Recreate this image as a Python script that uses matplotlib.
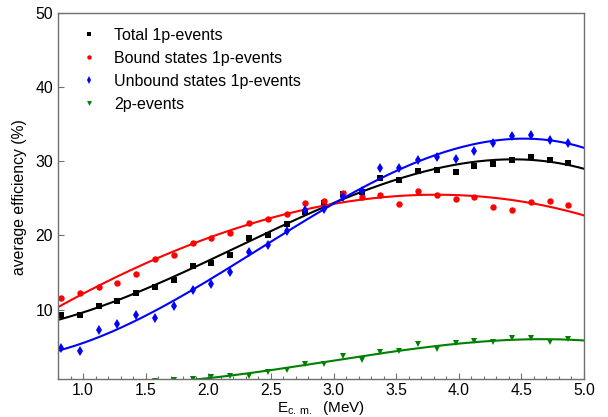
import numpy as np
import matplotlib
matplotlib.use('Agg')
import matplotlib.pyplot as plt
from matplotlib.ticker import MultipleLocator, FormatStrFormatter

plt.rcParams['font.family'] = ['Liberation Sans', 'DejaVu Sans']
plt.rcParams['mathtext.fontset'] = 'custom'
plt.rcParams['mathtext.rm'] = 'Liberation Sans'

# energy bins (MeV), 0.15 MeV wide
energy = [0.825, 0.975, 1.125, 1.275, 1.425, 1.575, 1.725, 1.875, 2.025, 2.175,
          2.325, 2.475, 2.625, 2.775, 2.925, 3.075, 3.225, 3.375, 3.525, 3.675,
          3.825, 3.975, 4.125, 4.275, 4.425, 4.575, 4.725, 4.875]

total_1p = [9.2, 9.2, 10.5, 11.2, 12.2, 13.1, 14.0, 15.8, 16.3, 17.4,
            19.6, 20.1, 21.5, 23.2, 24.3, 25.5, 25.8, 27.7, 27.4, 28.7,
            28.8, 28.5, 29.3, 29.6, 30.1, 30.6, 30.1, 29.8]

bound_1p = [11.6, 12.2, 13.0, 13.6, 14.8, 16.8, 17.3, 19.0, 19.7, 20.3,
            21.6, 22.2, 22.9, 24.3, 24.6, 25.7, 25.2, 25.4, 24.2, 26.0,
            25.4, 24.9, 25.2, 23.8, 23.4, 24.5, 24.6, 24.1]

unbound_1p = [4.8, 4.4, 7.2, 8.0, 9.2, 8.9, 10.5, 12.6, 13.4, 15.0,
              17.8, 18.7, 20.6, 23.4, 23.5, 25.2, 26.0, 29.0, 29.0, 30.1,
              30.6, 30.3, 31.4, 32.4, 33.4, 33.5, 32.9, 32.5]

# lowest 2p points sit below the axis (clipped), values estimated ~0
events_2p = [0.0, 0.05, 0.1, 0.15, 0.25, 0.35, 0.5,
             0.7, 0.85, 1.0, 1.0, 1.55, 1.9, 2.6, 2.7, 3.8, 3.25,
             4.3, 4.4, 5.4, 4.7, 5.5, 5.7, 5.6, 6.1, 6.2, 5.6, 6.0]

fig = plt.figure(figsize=(6.08, 4.17), dpi=100)
ax = fig.add_axes([0.0954, 0.0904, 0.8651, 0.8794])

xfit = np.linspace(0.8, 5.0, 300)

series = [
    (total_1p, 'black', 's', 4.2, 'Total 1p-events'),
    (bound_1p, 'red', 'o', 4.6, 'Bound states 1p-events'),
    (unbound_1p, 'blue', 'd', 5.5, 'Unbound states 1p-events'),
    (events_2p, 'green', 'v', 5.0, '2p-events'),
]

for y, col, mk, ms, lab in series:
    ax.plot(energy, y, linestyle='none', marker=mk, color=col, markersize=ms,
            markeredgewidth=0, label=lab)
    coef = np.polyfit(energy, y, 3)
    ax.plot(xfit, np.polyval(coef, xfit), color=col, lw=1.5)

ax.set_xlim(0.8, 5.0)
ax.set_ylim(0.6, 50)
ax.set_yticks([10, 20, 30, 40, 50])
ax.xaxis.set_major_locator(MultipleLocator(0.5))
ax.xaxis.set_minor_locator(MultipleLocator(0.1))
ax.xaxis.set_major_formatter(FormatStrFormatter('%.1f'))

for s in ax.spines.values():
    s.set_color('#707070')
    s.set_linewidth(1.0)
ax.tick_params(direction='in', colors='#707070', labelcolor='black',
               labelsize=11.3, length=4, width=0.8, top=False, right=False)
ax.tick_params(axis='x', pad=2.5)
ax.tick_params(which='minor', direction='in', colors='#707070', length=2.5, width=0.8)

ax.set_xlabel(r'E$_\mathregular{c.\,m.}$  (MeV)', fontsize=11)
ax.xaxis.set_label_coords(0.5, -0.055)
ax.set_ylabel('average efficiency (%)', fontsize=11.3)
ax.yaxis.set_label_coords(-0.058, 0.497)

leg = ax.legend(loc='upper left', frameon=False, fontsize=11.5, markerscale=0.7,
                handlelength=1.0, handletextpad=1.1, labelspacing=0.5,
                borderaxespad=0.2, bbox_to_anchor=(0.025, 0.985))

fig.savefig('out.png', dpi=100)
